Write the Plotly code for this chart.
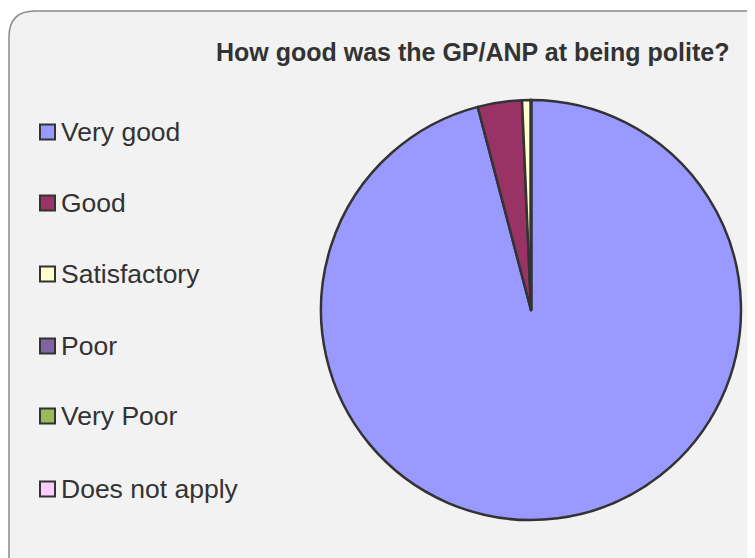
import plotly.graph_objects as go

labels = ["Very good", "Good", "Satisfactory", "Poor", "Very Poor", "Does not apply"]
values = [141, 5, 1, 0, 0, 0]
colors = ["#9999ff", "#993366", "#ffffcc", "#8064a2", "#9bbb59", "#ffccff"]
title = "How good was the GP/ANP at being polite?"

W, H = 755, 558
OFF = 8  # page body margin
def px(x): return (x - OFF) / W
def py(y): return 1 - (y - OFF) / H

fig = go.Figure()
fig.add_trace(go.Pie(
    labels=labels, values=values, sort=False, direction="clockwise", rotation=0,
    marker=dict(colors=colors, line=dict(color="#333333", width=2.5)),
    textinfo="none", hoverinfo="label+value+percent", showlegend=False,
    domain=dict(x=[px(321), px(741)], y=[py(520), py(100)]),
))

# background rounded panel
x0, y0, x1, y1, r = 9, 11, 775, 580, 26
path = (f"M {px(x0)},{py(y1)} L {px(x0)},{py(y0 + r)} "
        f"Q {px(x0)},{py(y0)} {px(x0 + r)},{py(y0)} "
        f"L {px(x1)},{py(y0)} L {px(x1)},{py(y1)} Z")
shapes = [dict(type="path", path=path, xref="paper", yref="paper",
               fillcolor="#f2f2f2", line=dict(color="#8a8a8a", width=1.5), layer="below")]

annotations = [dict(text="<b>" + title + "</b>", x=px(214), y=py(52), xref="paper", yref="paper",
                    xanchor="left", yanchor="middle", showarrow=False,
                    font=dict(family="Liberation Sans, Arial", size=25, color="#333333"))]

# legend
ys = [132, 203, 274, 346, 416, 489]
for lab, col, yc in zip(labels, colors, ys):
    shapes.append(dict(type="rect", xref="paper", yref="paper",
                       x0=px(40), x1=px(55), y0=py(yc + 7.5), y1=py(yc - 7.5),
                       fillcolor=col, line=dict(color="#333333", width=2)))
    annotations.append(dict(text=lab, x=px(59), y=py(yc), xref="paper", yref="paper",
                            xanchor="left", yanchor="middle", showarrow=False,
                            font=dict(family="Liberation Sans, Arial", size=26.5, color="#333333")))

fig.update_layout(width=W, height=H, margin=dict(l=0, r=0, t=0, b=0),
                  paper_bgcolor="white", plot_bgcolor="white",
                  shapes=shapes, annotations=annotations)
fig.write_html("out.html")
